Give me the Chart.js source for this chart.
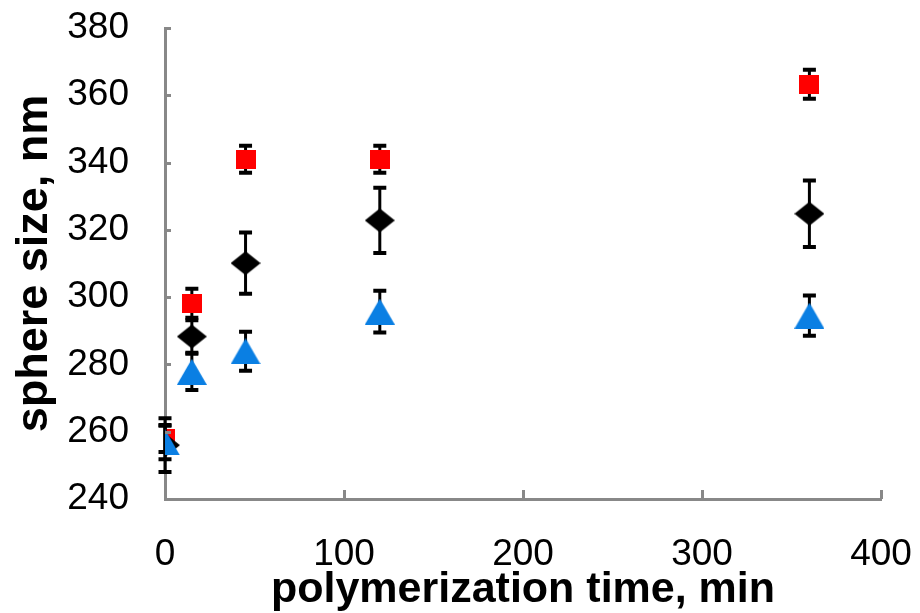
<!DOCTYPE html>
<html>
<head>
<meta charset="utf-8">
<script src="https://cdn.jsdelivr.net/npm/chart.js@4"></script>
<style>
  html, body { margin: 0; padding: 0; background: #fff; }
  #wrap { width: 920px; height: 613px; }
</style>
</head>
<body>
<div id="wrap"><canvas id="myChart" width="920" height="613"></canvas></div>
<script>
// polymerization time (min) and sphere size (nm)
var times = [0, 15, 45, 120, 360];
var redSize = [258, 298.2, 341, 341, 363.3];
var redErr = [4, 4.3, 4, 4, 4.3];
var blackSize = [256, 288.3, 310.1, 322.8, 324.8];
var blackErr = [8, 4.8, 9.1, 9.7, 9.9];
var blueSize = [256.8, 277.8, 283.9, 295.7, 294.5];
var blueErr = [5, 5.4, 5.8, 6.2, 6];

var xTicks = [0, 100, 200, 300, 400];
var yTicks = [240, 260, 280, 300, 320, 340, 360, 380];

var axisGray = "#888888";
var fontFam = "'Liberation Sans', Arial, sans-serif";

function points(ys) {
  return times.map(function (t, i) { return { x: t, y: ys[i] }; });
}

// marker shapes drawn on small canvases so they can be sized like the original
function marker(kind, w, h, color) {
  var c = document.createElement("canvas");
  c.width = w; c.height = h;
  var g = c.getContext("2d");
  g.fillStyle = color;
  g.beginPath();
  if (kind === "diamond") {
    g.moveTo(w / 2, 0); g.lineTo(w, h / 2); g.lineTo(w / 2, h); g.lineTo(0, h / 2);
  } else if (kind === "triangle") {
    g.moveTo(w / 2, 0); g.lineTo(w, h); g.lineTo(0, h);
  } else {
    g.rect(0, 0, w, h);
  }
  g.closePath();
  g.fill();
  return c;
}

// black error bars with caps, drawn under each series' own markers
var errorBars = {
  id: "errorBars",
  beforeDatasetDraw: function (chart, args) {
    var ds = chart.data.datasets[args.index];
    if (!ds.err) return;
    var xs = chart.scales.x, ys = chart.scales.y, ctx = chart.ctx;
    ctx.save();
    ctx.strokeStyle = "#000";
    ds.data.forEach(function (p, i) {
      var px = xs.getPixelForValue(p.x);
      var top = ys.getPixelForValue(p.y + ds.err[i]);
      var bot = ys.getPixelForValue(p.y - ds.err[i]);
      ctx.lineWidth = 3;
      ctx.beginPath();
      ctx.moveTo(px, top); ctx.lineTo(px, bot);
      ctx.stroke();
      ctx.lineWidth = 4;
      ctx.beginPath();
      ctx.moveTo(px - 6.5, top); ctx.lineTo(px + 6.5, top);
      ctx.moveTo(px - 6.5, bot); ctx.lineTo(px + 6.5, bot);
      ctx.stroke();
    });
    ctx.restore();
  }
};

// short tick marks pointing into the plot area
var innerTicks = {
  id: "innerTicks",
  afterDraw: function (chart) {
    var ctx = chart.ctx, a = chart.chartArea;
    var xs = chart.scales.x, ys = chart.scales.y;
    ctx.save();
    ctx.strokeStyle = axisGray;
    ctx.lineWidth = 3;
    ctx.beginPath();
    yTicks.forEach(function (v) {
      if (v === 240) return;
      var py = Math.round(ys.getPixelForValue(v)) + 0.5;
      ctx.moveTo(a.left, py); ctx.lineTo(a.left + 6, py);
    });
    xTicks.forEach(function (v) {
      if (v === 0) return;
      var px = Math.round(xs.getPixelForValue(v)) + 0.5;
      ctx.moveTo(px, a.bottom); ctx.lineTo(px, a.bottom - 9);
    });
    ctx.stroke();
    ctx.restore();
  }
};

new Chart("myChart", {
  type: "scatter",
  data: {
    datasets: [{
      label: "red",
      data: points(redSize),
      err: redErr,
      order: 3,
      pointStyle: marker("square", 20, 19, "#ff0000"),
      pointRadius: 10
    }, {
      label: "black",
      data: points(blackSize),
      err: blackErr,
      order: 2,
      pointStyle: marker("diamond", 30, 24, "#000000"),
      pointRadius: 12
    }, {
      label: "blue",
      data: points(blueSize),
      err: blueErr,
      order: 1,
      pointStyle: marker("triangle", 30, 26, "#0a7fe3"),
      pointRadius: 13
    }]
  },
  plugins: [errorBars, innerTicks],
  options: {
    responsive: false,
    animation: false,
    layout: { padding: { top: 28, right: 39, left: 0, bottom: 0 } },
    plugins: {
      legend: { display: false },
      tooltip: { enabled: false }
    },
    scales: {
      x: {
        type: "linear",
        min: 0,
        max: 400,
        afterBuildTicks: function (s) { s.ticks = xTicks.map(function (v) { return { value: v }; }); },
        afterFit: function (s) { s.height = 114; s.paddingLeft = 0; s.paddingRight = 0; },
        grid: { drawOnChartArea: false, drawTicks: false },
        border: { color: axisGray, width: 3 },
        ticks: { color: "#000", padding: 34, font: { family: fontFam, size: 37 } },
        title: {
          display: true,
          text: "polymerization time, min",
          color: "#000",
          padding: { top: 0, bottom: -3 },
          font: { family: fontFam, size: 43, weight: "bold" }
        }
      },
      y: {
        type: "linear",
        min: 240,
        max: 380,
        afterBuildTicks: function (s) { s.ticks = yTicks.map(function (v) { return { value: v }; }); },
        afterFit: function (s) { s.width = 165; s.paddingTop = 0; s.paddingBottom = 0; },
        grid: { drawOnChartArea: false, drawTicks: false },
        border: { color: axisGray, width: 3 },
        ticks: { color: "#000", padding: 36, font: { family: fontFam, size: 37 } },
        title: {
          display: true,
          text: "sphere size, nm",
          color: "#000",
          padding: { top: 8, bottom: 0 },
          font: { family: fontFam, size: 45, weight: "bold" }
        }
      }
    }
  }
});
</script>
</body>
</html>
